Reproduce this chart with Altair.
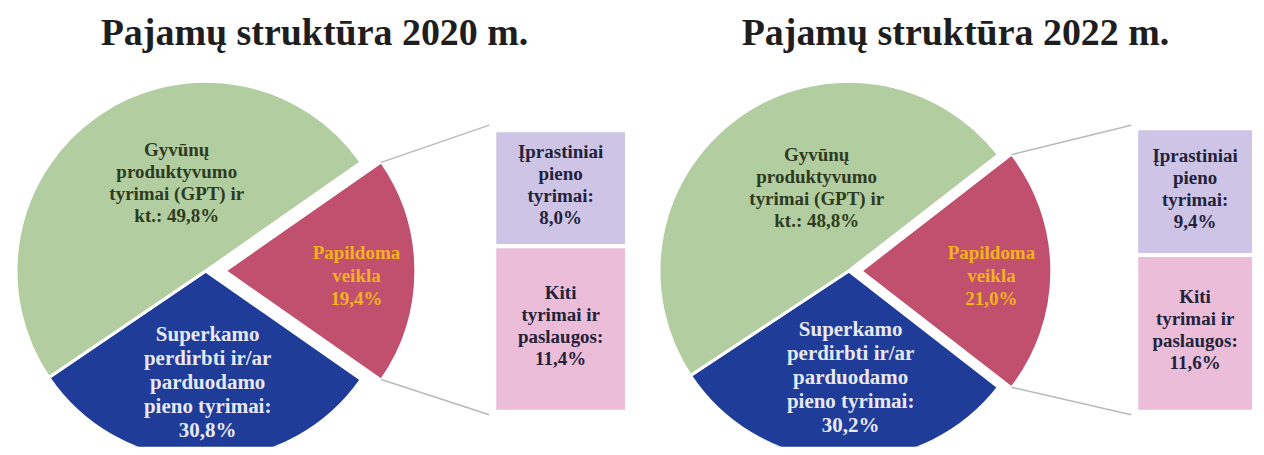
import math
import altair as alt
import pandas as pd

# ---------------- data ----------------
keys = ["papildoma", "superkamo", "gyvunu"]
labels_2020 = ["Papildoma\nveikla\n19,4%",
               "Superkamo\nperdirbti ir/ar\nparduodamo\npieno tyrimai:\n30,8%",
               "Gyvūnų\nproduktyvumo\ntyrimai (GPT) ir\nkt.: 49,8%"]
labels_2022 = ["Papildoma\nveikla\n21,0%",
               "Superkamo\nperdirbti ir/ar\nparduodamo\npieno tyrimai:\n30,2%",
               "Gyvūnų\nproduktyvumo\ntyrimai (GPT) ir\nkt.: 48,8%"]
values_2020 = [19.4, 30.8, 49.8]
values_2022 = [21.0, 30.2, 48.8]

sub_keys = ["iprastiniai", "kiti"]
sub_labels_2020 = ["Įprastiniai\npieno\ntyrimai:\n8,0%", "Kiti\ntyrimai ir\npaslaugos:\n11,4%"]
sub_labels_2022 = ["Įprastiniai\npieno\ntyrimai:\n9,4%", "Kiti\ntyrimai ir\npaslaugos:\n11,6%"]
sub_2020 = [8.0, 11.4]
sub_2022 = [9.4, 11.6]

titles = ["Pajamų struktūra 2020 m.", "Pajamų struktūra 2022 m."]

# ---------------- styles ----------------
pie_colors = ["#c0506e", "#1f3d98", "#b2cd9f"]
sub_colors = ["#cdc4e6", "#ebbdd8"]
label_colors = ["#f4b21c", "#e8e8f2", "#2e3b22"]
label_sizes = [19, 21, 19]
label_lh = [23, 24, 22]
box_size, box_lh = 19, 22
FONT = "Liberation Serif"

geoms = [
    dict(cx=198, cy=263, r=190, dx=20, bx1=487, bx2=620, top=122, bottom=404,
         lx=482, ly1=117, ly2=407, tx=307, ty=37,
         lab=[(349, 268), (200, 375), (169, 175)]),
    dict(cx=218, cy=263, r=190, dx=13, bx1=506, bx2=624, top=120, bottom=404,
         lx=501, ly1=117, ly2=407, tx=325, ty=37,
         lab=[(361, 268), (220, 370), (186, 180)]),
]

W, H = 624, 439


def panel(values, labels, subs, sub_labels, title, g):
    df = pd.DataFrame({"key": keys, "value": values})
    df["end"] = df["value"].cumsum()
    df["start"] = df["end"] - df["value"]
    total = float(sum(values))
    red_frac = values[0] / total
    s = math.pi / 2 - red_frac * math.pi
    theta_scale = alt.Scale(domain=[0, total], range=[s, s + 2 * math.pi])
    color_scale = alt.Scale(domain=keys + sub_keys, range=pie_colors + sub_colors)

    arcs = alt.Chart(df).mark_arc(outerRadius=g["r"], stroke="white", strokeWidth=3, clip=True).encode(
        theta=alt.Theta("start:Q", scale=theta_scale),
        theta2="end:Q",
        color=alt.Color("key:N", scale=color_scale, legend=None),
        x=alt.value(g["cx"]), y=alt.value(g["cy"]),
    ).transform_filter(alt.datum.key != keys[0])

    red = alt.Chart(df).mark_arc(outerRadius=g["r"], stroke="white", strokeWidth=2, clip=True).encode(
        theta=alt.Theta("start:Q", scale=theta_scale),
        theta2="end:Q",
        color=alt.Color("key:N", scale=color_scale, legend=None),
        x=alt.value(g["cx"] + g["dx"]), y=alt.value(g["cy"]),
    ).transform_filter(alt.datum.key == keys[0])

    # connector lines from exploded slice corners to stacked box
    rcx = g["cx"] + g["dx"]
    a1, a2 = s, s + red_frac * 2 * math.pi
    p1 = (rcx + g["r"] * math.sin(a1), g["cy"] - g["r"] * math.cos(a1))
    p2 = (rcx + g["r"] * math.sin(a2), g["cy"] - g["r"] * math.cos(a2))
    one = pd.DataFrame({"a": [0]})
    line1 = alt.Chart(one).mark_rule(color="#b8b8b8", strokeWidth=1.5).encode(
        x=alt.value(p1[0]), y=alt.value(p1[1]), x2=alt.value(g["lx"]), y2=alt.value(g["ly1"]))
    line2 = alt.Chart(one).mark_rule(color="#b8b8b8", strokeWidth=1.5).encode(
        x=alt.value(p2[0]), y=alt.value(p2[1]), x2=alt.value(g["lx"]), y2=alt.value(g["ly2"]))

    sdf = pd.DataFrame({"key": sub_keys, "value": subs, "label": sub_labels})
    sdf["end"] = sdf["value"].cumsum()
    sdf["start"] = sdf["end"] - sdf["value"]
    sdf["mid"] = (sdf["start"] + sdf["end"]) / 2
    sub_total = float(sum(subs))
    yscale = alt.Scale(domain=[0, sub_total], range=[g["top"], g["bottom"]])
    boxes = alt.Chart(sdf).mark_rect(stroke="white", strokeWidth=4).encode(
        y=alt.Y("start:Q", scale=yscale, axis=None),
        y2="end:Q",
        x=alt.value(g["bx1"]), x2=alt.value(g["bx2"]),
        color=alt.Color("key:N", scale=color_scale, legend=None),
    )
    nlines = sub_labels[0].count("\n") + 1
    box_text = alt.Chart(sdf).mark_text(font=FONT, fontWeight="bold", fontSize=box_size, lineHeight=box_lh,
                                        lineBreak="\n", color="#22223a", baseline="middle",
                                        align="center", dy=-(nlines - 1) * box_lh / 2 - 3).encode(
        y=alt.Y("mid:Q", scale=yscale, axis=None),
        x=alt.value((g["bx1"] + g["bx2"]) / 2),
        text="label:N",
    )

    layers = [arcs, red, line1, line2, boxes, box_text]
    for i in range(3):
        lx, ly = g["lab"][i]
        n = labels[i].count("\n") + 1
        layers.append(
            alt.Chart(one).mark_text(font=FONT, fontWeight="bold", fontSize=label_sizes[i],
                                     lineHeight=label_lh[i], lineBreak="\n", color=label_colors[i],
                                     baseline="middle", align="center").encode(
                x=alt.value(lx), y=alt.value(ly - (n - 1) * label_lh[i] / 2), text=alt.value(labels[i]))
        )
    layers.append(
        alt.Chart(one).mark_text(font=FONT, fontWeight="bold", fontSize=38, color="#1e1e1e",
                                 baseline="alphabetic", align="center").encode(
            x=alt.value(g["tx"]), y=alt.value(g["ty"]), text=alt.value(title))
    )
    return alt.layer(*layers).properties(width=W, height=H)


left = panel(values_2020, labels_2020, sub_2020, sub_labels_2020, titles[0], geoms[0])
right = panel(values_2022, labels_2022, sub_2022, sub_labels_2022, titles[1], geoms[1])

chart = alt.hconcat(left, right, spacing=0).resolve_scale(
    theta="independent", y="independent", color="independent"
).configure_view(strokeWidth=0).properties(padding=0, background="white")

chart.save("out.html", embed_options={"renderer": "svg", "actions": False})
